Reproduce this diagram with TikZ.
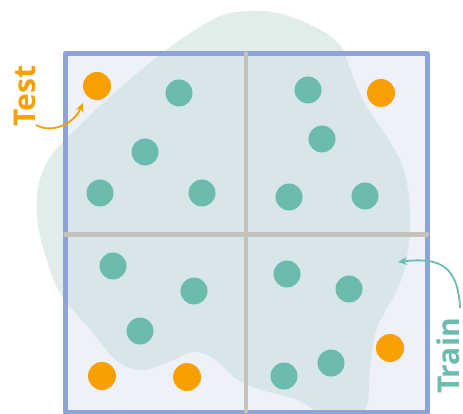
\documentclass[tikz,border=0pt]{standalone}
\usepackage{fontspec}
\setmainfont{Open Sans}
\usetikzlibrary{arrows.meta}
\definecolor{blobout}{HTML}{E1EDEA}
\definecolor{blobin}{HTML}{D8E6E9}
\definecolor{boxfill}{HTML}{EEF1FA}
\definecolor{boxline}{HTML}{8FA3DB}
\definecolor{gridgray}{HTML}{C5C2BB}
\definecolor{tealdot}{HTML}{6BBCAE}
\definecolor{orangedot}{HTML}{F9A000}
\tikzset{
  traindot/.style={circle,fill=tealdot,minimum size=27pt,inner sep=0pt},
  testdot/.style={circle,fill=orangedot,minimum size=28pt,inner sep=0pt},
  gridline/.style={draw=gridgray,line width=4.5pt,line cap=round},
  labeltext/.style={rotate=90,inner sep=0pt,font=\fontsize{30}{30}\selectfont\bfseries},
  curvearrow/.style={line width=1.8pt,-{Stealth[length=9pt,width=8pt]}}
}
\begin{document}
\begin{tikzpicture}[x=1pt,y=-1pt]
\useasboundingbox (0,0) rectangle (463,414);
\def\blobpath{plot[smooth cycle,tension=0.55] coordinates {
 (230,13) (273,12) (313,26) (340,45) (352,74) (365,104) (390,142) (404,170)
 (410,210) (408,250) (400,283) (386,310) (376,330) (370,367) (367,405) (350,422)
 (328,418) (297,400) (262,390) (238,380) (213,358) (193,352) (173,360) (143,370)
 (117,361) (90,329) (63,298) (49,267) (38,225) (38,187) (50,157) (73,132)
 (110,97) (157,57) (198,28)}}
% blob outside the box
\fill[blobout] \blobpath;
% box fill
\fill[boxfill] (65.5,53.5) rectangle (427,412);
% blob inside the box
\begin{scope}
  \clip (65.5,53.5) rectangle (427,412);
  \fill[blobin] \blobpath;
\end{scope}
% box border
\draw[boxline,line width=5pt,line join=round] (65.5,53.5) rectangle (427,412);
% grid lines
\coordinate (vt) at (246,53.5);
\coordinate (vb) at (246,412);
\coordinate (hl) at (65.5,234.5);
\coordinate (hr) at (427,234.5);
\draw[gridline] (vt) -- (vb);
\draw[gridline] (hl) -- (hr);
% test dots
\node[testdot] (o1) at (97,86) {};
\node[testdot] (o2) at (381,93) {};
\node[testdot] (o3) at (102,376) {};
\node[testdot] (o4) at (187,377) {};
\node[testdot] (o5) at (390,348) {};
% train dots
\node[traindot] (t1) at (179,93) {};
\node[traindot] (t2) at (145,152) {};
\node[traindot] (t3) at (100,193) {};
\node[traindot] (t4) at (202,193) {};
\node[traindot] (t5) at (308,90) {};
\node[traindot] (t6) at (322,139) {};
\node[traindot] (t7) at (289,197) {};
\node[traindot] (t8) at (365,196) {};
\node[traindot] (t9) at (113,266) {};
\node[traindot] (t10) at (194,291) {};
\node[traindot] (t11) at (140,331) {};
\node[traindot] (t12) at (287,274) {};
\node[traindot] (t13) at (349,289) {};
\node[traindot] (t14) at (331,363) {};
\node[traindot] (t15) at (284,376) {};
% labels
\node[labeltext,text=orangedot] (testlbl) at (25,96) {Test};
\node[labeltext,text=tealdot] (trainlbl) at (448.5,356) {Train};
% arrows
\coordinate (testA) at (36,125);
\coordinate (testB) at (83,103);
\draw[curvearrow,orangedot] (testA) .. controls (52,134) and (74,124) .. (testB);
\coordinate (trainA) at (460,308);
\coordinate (trainB) at (398,262);
\draw[curvearrow,tealdot] (trainA) .. controls (458,266) and (440,257) .. (trainB);
\end{tikzpicture}
\end{document}
